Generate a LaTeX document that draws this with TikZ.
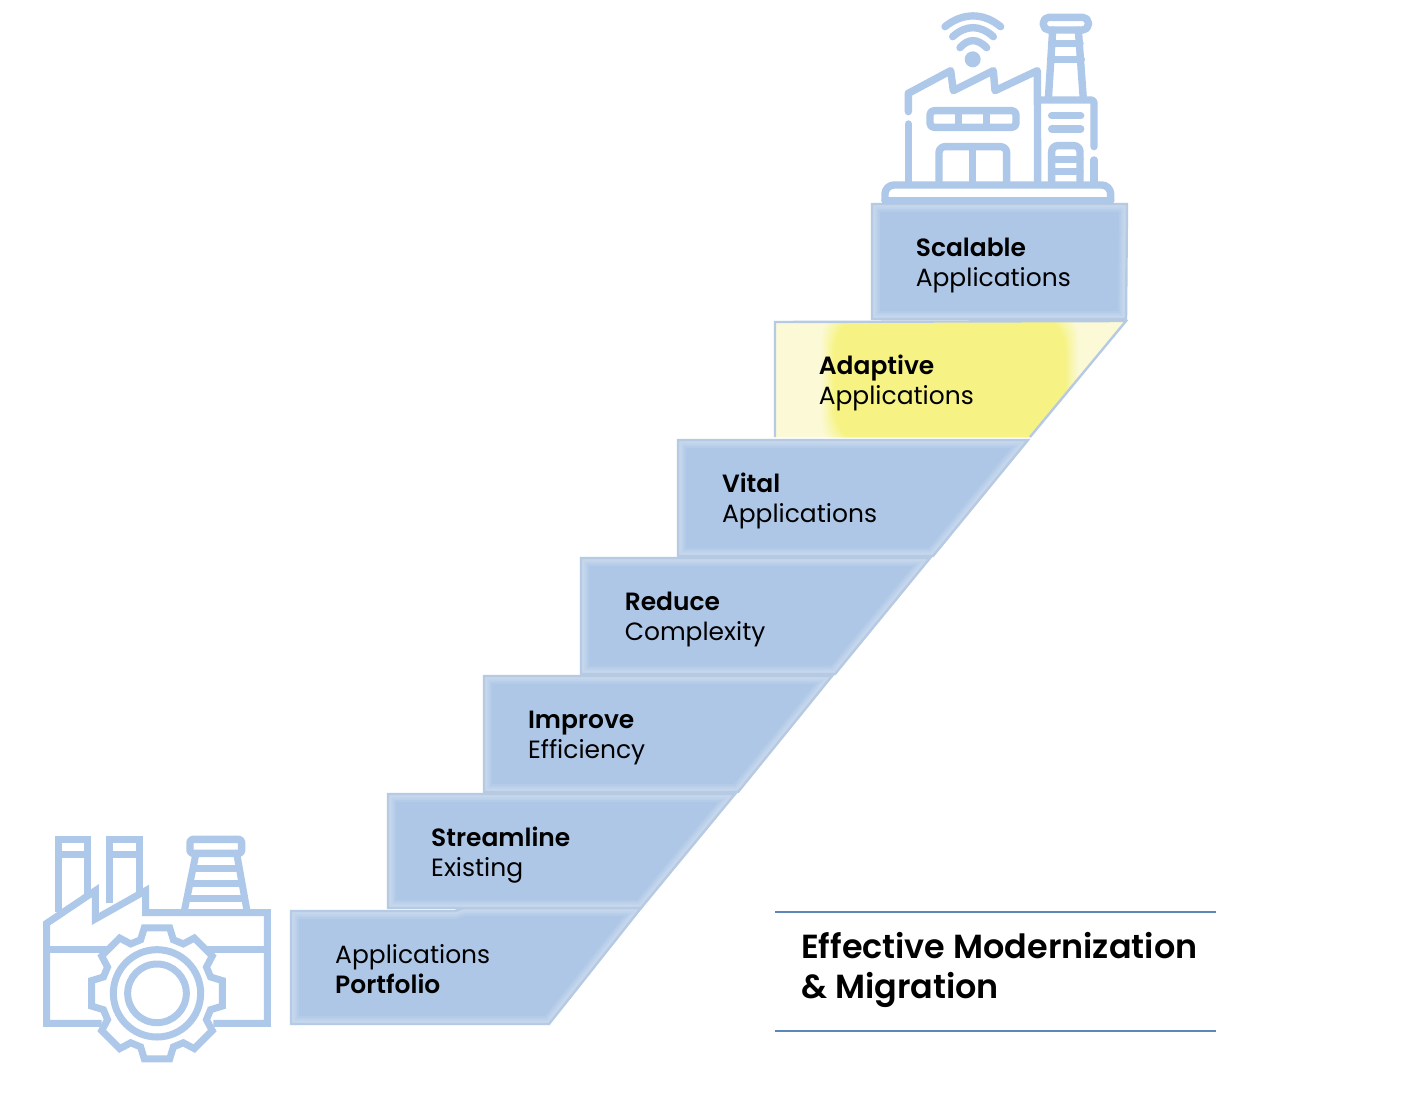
\documentclass[tikz,border=0pt]{standalone}
\usepackage{fontspec}
\setmainfont{Poppins}[BoldFont={Poppins SemiBold}]
\definecolor{stepblue}{HTML}{AEC7E7}
\definecolor{edgeblue}{HTML}{B6CAE3}
\definecolor{icon}{HTML}{AEC8E9}
\definecolor{rule}{HTML}{5C87B8}
\definecolor{paleyellow}{HTML}{FBF9D6}
\definecolor{stronyellow}{HTML}{F6F384}
\tikzset{
  iconline/.style={draw=icon,line width=7.4pt,line join=round,line cap=round},
  iconsharp/.style={draw=icon,line width=7pt,line join=miter,line cap=butt},
  edgeline/.style={draw=edgeblue,line width=2.4pt,line join=miter},
  label/.style={anchor=base west,inner sep=0pt,font=\fontsize{24.95}{30}\selectfont,text=black},
  heading/.style={anchor=base west,inner sep=0pt,font=\fontsize{33.4}{40}\selectfont\bfseries,text=black},
  rulerline/.style={draw=rule,line width=1.4pt}
}
\newcommand\stairstep[2][stepblue]{%
  \fill[#1] #2;
  \begin{scope}
    \clip #2;
    \foreach \w in {16,12,9,6}{\draw[white,opacity=.09,line width=\w pt] #2;}
  \end{scope}
  \draw[edgeline] #2;}
\begin{document}
\begin{tikzpicture}[x=1pt,y=-1pt]
\useasboundingbox (0,0) rectangle (1412,1102);
\fill[white] (0,0) rectangle (1412,1102);

% stairs
\stairstep{(291,911) -- (455,911) -- (463,908) -- (641,908) -- (549,1024) -- (291,1024) -- cycle}
\stairstep{(388,794) -- (735,794) -- (641,908) -- (388,908) -- cycle}
\stairstep{(484,676) -- (832,676) -- (738,792) -- (484,792) -- cycle}
\stairstep{(581,558) -- (930,558) -- (835,674) -- (581,674) -- cycle}
\stairstep{(678,440) -- (1028,440) -- (933,556) -- (678,556) -- cycle}
% highlighted step
\fill[paleyellow] (775,322) -- (1126,321) -- (1030,437) -- (775,437) -- cycle;
\begin{scope}
  \clip (775,322) -- (1126,321) -- (1030,437) -- (775,437) -- cycle;
  \foreach \i/\m in {12/12,10/26,8/40,6/55,4/70,2/85,0/100}{
    \fill[stronyellow!\m!paleyellow,rounded corners=42pt]
      ({834-\i},{310-\i}) rectangle ({1066+\i},{449+\i});
  }
\end{scope}
\draw[edgeline] (775,437) -- (775,322) -- (1126,321) -- (1030,437);
\stairstep{(872,204) -- (1127,204) -- (1126,319) -- (872,319) -- cycle}

% labels
\node[label] (s6a) at (915.6,256) {\textbf{Scalable}};
\node[label] (s6b) at (915.6,286) {Applications};
\node[label] (s5a) at (818.6,374) {\textbf{Adaptive}};
\node[label] (s5b) at (818.6,404) {Applications};
\node[label] (s4a) at (721.8,492) {\textbf{Vital}};
\node[label] (s4b) at (721.8,522) {Applications};
\node[label] (s3a) at (624.6,610) {\textbf{Reduce}};
\node[label] (s3b) at (624.6,640) {Complexity};
\node[label] (s2a) at (527.8,728) {\textbf{Improve}};
\node[label] (s2b) at (527.8,758) {Efficiency};
\node[label] (s1a) at (431,846) {\textbf{Streamline}};
\node[label] (s1b) at (431,876) {Existing};
\node[label] (s0a) at (335,963) {Applications};
\node[label] (s0b) at (335,993) {\textbf{Portfolio}};

% title
\draw[rulerline] (775,912) -- (1216,912);
\draw[rulerline] (775,1031) -- (1216,1031);
\node[heading] (t1) at (801,958) {Effective Modernization};
\node[heading] (t2) at (801,998) {\& Migration};

% top factory icon
\begin{scope}[shift={(860,0)},scale=1/3]
  \fill[icon] (338,178) circle (24);
  \draw[iconline] (300,143) .. controls (325,115) and (352,115) .. (380,143);
  \draw[iconline] (278,110) .. controls (318,74) and (360,74) .. (400,110);
  \draw[iconline] (255,80) .. controls (308,37) and (370,37) .. (422,80);
  \draw[iconline] (145,335) -- (145,280) -- (272,212) -- (280,272) -- (400,212) -- (405,272) -- (532,212) -- (533,548);
  \draw[iconline] (145,372) -- (145,548);
  \draw[iconline,rounded corners=4pt] (210,332) rectangle (468,382);
  \draw[iconline] (295,332) -- (295,382) (380,332) -- (380,382);
  \draw[iconline,rounded corners=6pt] (237,548) -- (237,440) -- (440,440) -- (440,548);
  \draw[iconline] (338,440) -- (338,548);
  \draw[iconline,rounded corners=5.5pt] (550,52) rectangle (685,90);
  \draw[iconline] (578,90) -- (565,298) (655,90) -- (670,298);
  \draw[iconline] (575,130) -- (660,130) (572,178) -- (664,178);
  \draw[iconline,rounded corners=3pt] (533,300) -- (702,300) -- (702,440);
  \draw[iconline] (702,480) -- (702,548);
  \draw[iconline] (575,347) -- (662,347) (575,387) -- (662,387);
  \draw[iconline,rounded corners=6pt] (575,548) -- (575,437) -- (660,437) -- (660,548);
  \draw[iconline] (575,478) -- (660,478) (575,515) -- (660,515);
  \draw[iconline,rounded corners=9pt] (75,602) -- (75,555) -- (752,555) -- (752,602);
  \draw[iconline] (75,602) -- (752,602);
\end{scope}

% bottom factory icon
\begin{scope}[shift={(30,820)},scale=1/3]
  \draw[iconsharp] (85,275) -- (85,58) -- (173,58) -- (173,225);
  \draw[iconsharp] (85,103) -- (173,103);
  \draw[iconsharp] (238,250) -- (238,58) -- (327,58) -- (327,215);
  \draw[iconsharp] (238,103) -- (327,103);
  \draw[iconsharp] (215,610) -- (50,610) -- (50,310) -- (196,212) -- (196,297) -- (347,212) -- (347,278) -- (712,278) -- (712,610) -- (550,610);
  \draw[iconsharp] (50,388) -- (240,388) (525,388) -- (712,388);
  \draw[iconline,rounded corners=3pt] (480,58) rectangle (635,100);
  \draw[iconsharp] (498,100) -- (462,278) (620,100) -- (652,278);
  \draw[iconsharp] (490,145) -- (628,145) (482,190) -- (636,190) (472,235) -- (644,235);
  \begin{scope}[shift={(381,520)}]
    \fill[white] (0,0) circle (180);
    \draw[iconsharp] (-11:200) \foreach \a in {0,45,...,315}{ -- (\a-11:200) -- (\a+11:200) -- (\a+17:168) -- (\a+28:168)} -- cycle;
    \draw[icon,line width=7pt] (0,0) circle (131);
    \draw[icon,line width=7pt] (0,0) circle (88);
  \end{scope}
\end{scope}
\end{tikzpicture}
\end{document}
